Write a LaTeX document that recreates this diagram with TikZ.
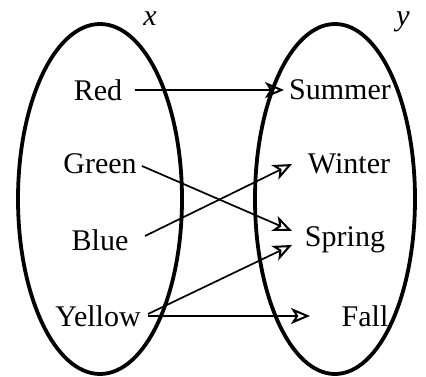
\documentclass[tikz,border=0pt]{standalone}
\usepackage{fontspec}
\setmainfont{Liberation Serif}
\usetikzlibrary{arrows.meta}
\begin{document}
\begin{tikzpicture}[x=1pt,y=-1pt,
  setshape/.style={draw=black, line width=3.8pt},
  lbl/.style={font=\fontsize{30}{35}\selectfont, inner sep=0pt},
  var/.style={font=\fontsize{30}{35}\selectfont\itshape, inner sep=0pt, anchor=base},
  maparrow/.style={draw=black, line width=1.7pt, -{Stealth[open, length=19pt, width=16pt, inset=5pt, line width=2pt]}}]
\useasboundingbox (0,0) rectangle (426,377);
\draw[setshape] (100,199) ellipse [x radius=82, y radius=175];
\draw[setshape] (335,199) ellipse [x radius=80, y radius=175];
\node[var] (vx) at (150,26) {x};
\node[var] (vy) at (403,26) {y};
\node[lbl] (red) at (98,90) {Red};
\node[lbl] (green) at (100,164) {Green};
\node[lbl] (blue) at (100,240) {Blue};
\node[lbl] (yellow) at (98,316) {Yellow};
\node[lbl] (summer) at (340,90) {Summer};
\node[lbl] (winter) at (349,164) {Winter};
\node[lbl] (spring) at (345,240) {Spring};
\node[lbl] (fall) at (365,316) {Fall};
\coordinate (redS) at (135,90);
\coordinate (summerE) at (284,90);
\coordinate (greenS) at (142,166);
\coordinate (springE1) at (292,231);
\coordinate (blueS) at (145,236);
\coordinate (winterE) at (292,164);
\coordinate (yellowS1) at (148,314);
\coordinate (springE2) at (292,245);
\coordinate (yellowS2) at (148,316);
\coordinate (fallE) at (310,316);
\draw[maparrow] (redS) -- (summerE);
\draw[maparrow] (greenS) -- (springE1);
\draw[maparrow] (blueS) -- (winterE);
\draw[maparrow] (yellowS1) -- (springE2);
\draw[maparrow] (yellowS2) -- (fallE);
\end{tikzpicture}
\end{document}
